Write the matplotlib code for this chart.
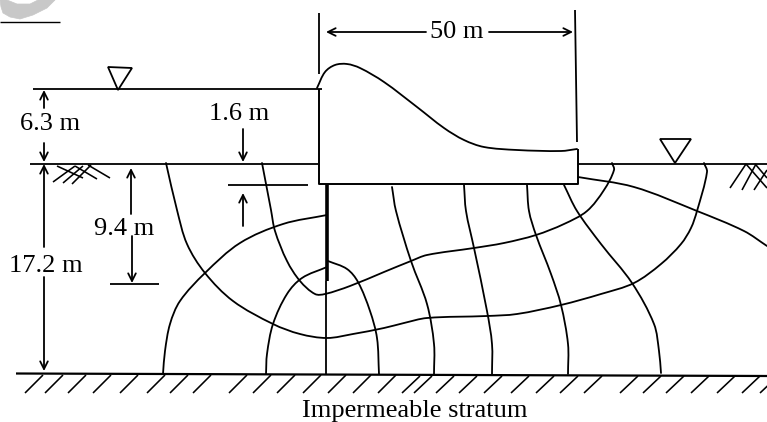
import math
import matplotlib
matplotlib.use('Agg')
import matplotlib.pyplot as plt
from matplotlib.path import Path
from matplotlib.patches import PathPatch, Polygon

plt.rcParams['font.family'] = ['Liberation Serif', 'DejaVu Serif']

W, H = 767, 422
INK = '#000000'
LW = 1.3

dam_top = [(317, 88), (325, 72), (335, 65), (347, 64), (360, 68), (384, 82), (417, 107),
           (444, 128), (464, 140), (484, 147), (517, 150), (561, 151), (577, 149)]
flow_a = [(166, 163), (177, 210), (187, 244), (205, 273), (233, 301), (273, 324), (300, 334),
          (327, 338), (353, 334), (384, 328), (404, 323), (427, 318), (487, 316), (517, 314),
          (561, 305), (601, 294), (634, 283), (661, 264), (681, 244), (691, 228), (697, 211),
          (707, 172), (704, 163)]
flow_b = [(262, 163), (271, 210), (275, 231), (287, 261), (300, 281), (315, 294), (325, 294),
          (350, 286), (384, 272), (411, 261), (427, 255), (474, 248), (504, 243), (536, 235),
          (564, 224), (587, 211), (604, 190), (614, 170), (612, 163)]
flow_c = [(578, 177), (634, 187), (697, 211), (744, 231), (767, 246)]
flow_d = [(327, 215), (283, 224), (240, 243), (205, 273), (180, 301), (170, 324), (165, 351), (163, 374)]
flow_e = [(327, 267), (302, 278), (287, 294), (273, 324), (267, 354), (266, 374)]
flow_f = [(328, 261), (347, 269), (358, 282), (370, 311), (377, 338), (379, 374)]
flow_g = [(392, 187), (396, 211), (411, 261), (427, 304), (434, 344), (434, 374)]
flow_h = [(464, 185), (466, 211), (474, 248), (487, 311), (492, 344), (492, 374)]
flow_i = [(527, 185), (529, 211), (536, 235), (551, 274), (561, 305), (568, 344), (568, 374)]
flow_j = [(564, 185), (577, 211), (601, 244), (632, 283), (654, 324), (659, 351), (661, 373)]
flow_lines = [flow_a, flow_b, flow_c, flow_d, flow_e, flow_f, flow_g, flow_h, flow_i, flow_j]

hatch_left = [25, 45, 68, 93, 120, 147, 170, 193, 229, 253, 277, 303, 328, 353, 378]
hatch_right = [402, 414, 436, 459, 484, 511, 536, 560, 584, 620, 643, 666, 691, 717, 742, 760]

soil_marks = [((53, 182), (75, 166)), ((63, 183), (83, 166)), ((72, 184), (91, 165)),
              ((57, 166), (83, 178)), ((75, 166), (97, 179)), ((88, 165), (110, 178)),
              ((730, 188), (746, 164)), ((742, 190), (756, 164)), ((754, 190), (767, 170)),
              ((746, 164), (767, 188)), ((756, 165), (767, 178))]

labels = ['50 m', '6.3 m', '1.6 m', '9.4 m', '17.2 m', 'Impermeable stratum']
label_x = [457, 50, 239, 124, 46, 415]
label_y = [32, 124.5, 114, 229, 266, 411]


def smooth(pts):
    # bezier through the points, handles a third of each segment long
    tangents = []
    for i in range(len(pts)):
        a = pts[max(i - 1, 0)]
        b = pts[min(i + 1, len(pts) - 1)]
        d = math.hypot(b[0] - a[0], b[1] - a[1])
        tangents.append(((b[0] - a[0]) / d, (b[1] - a[1]) / d))
    verts = [pts[0]]
    codes = [Path.MOVETO]
    for i in range(len(pts) - 1):
        p1, p2 = pts[i], pts[i + 1]
        h = math.hypot(p2[0] - p1[0], p2[1] - p1[1]) / 3
        c1 = (p1[0] + tangents[i][0] * h, p1[1] + tangents[i][1] * h)
        c2 = (p2[0] - tangents[i + 1][0] * h, p2[1] - tangents[i + 1][1] * h)
        verts += [c1, c2, p2]
        codes += [Path.CURVE4] * 3
    return Path(verts, codes)


def curve(ax, pts, lw=LW):
    ax.add_patch(PathPatch(smooth(pts), fill=False, ec=INK, lw=lw, capstyle='round'))


def line(ax, x, y, lw=LW):
    ax.plot(x, y, color=INK, lw=lw, solid_capstyle='butt')


def arrow(ax, start, end):
    ax.annotate('', xy=end, xytext=start,
                arrowprops=dict(arrowstyle='->,head_length=0.5,head_width=0.25', color=INK, lw=LW,
                                shrinkA=0, shrinkB=0, mutation_scale=11))


def hatch(ax, xs, y0, y1):
    for x in xs:
        line(ax, [x, x + 18], [y1, y0], lw=1.15)


fig = plt.figure(figsize=(W / 100, H / 100), dpi=100)
ax = fig.add_axes([0, 0, 1, 1])
ax.set_xlim(0, W)
ax.set_ylim(H, 0)
ax.axis('off')

# watermark remains in the corner
logo = [(0, 0), (1, 7), (3, 13), (10, 17), (20, 19), (33, 15), (47, 8), (55, 0),
        (38, 0), (30, 4), (17, 4), (7, 0)]
ax.add_patch(Polygon(logo, fc='#c8c8c8', ec='#c8c8c8', lw=0.5, joinstyle='round'))
line(ax, [0, 60], [21.5, 21.5], lw=1.0)

# dam
curve(ax, dam_top)
line(ax, [318.5, 318.5, 577.5, 577.5], [89, 184, 184, 149], lw=1.4)
line(ax, [318.5, 318.5], [13, 74])
line(ax, [575, 577], [10, 142])
line(ax, [326.5, 326.5], [184, 281], lw=2.6)
line(ax, [326, 326], [281, 375])

# water and ground
line(ax, [33, 322], [89, 89])
line(ax, [30, 318], [163.5, 163.5])
line(ax, [578, 767], [163.5, 163.5])
ax.add_patch(Polygon([(108, 67), (132, 68), (118, 90)], fill=False, ec=INK, lw=LW))
ax.add_patch(Polygon([(660, 139), (691, 139), (675, 163)], fill=False, ec=INK, lw=LW))

for a, b in soil_marks:
    line(ax, [a[0], b[0]], [a[1], b[1]], lw=1.15)

# seepage net
for pts in flow_lines:
    curve(ax, pts)

# bottom stratum
line(ax, [16, 767], [373.5, 376], lw=1.6)
hatch(ax, hatch_left, 375, 393)
hatch(ax, hatch_right, 376, 393)

# dimensions
arrow(ax, (426, 32), (326, 32))
arrow(ax, (489, 32), (573, 32))
arrow(ax, (44, 108), (44, 90))
arrow(ax, (44, 143), (44, 162))
arrow(ax, (44, 247), (44, 164))
arrow(ax, (44, 277), (44, 371))
arrow(ax, (243, 129), (243, 162))
line(ax, [228, 308], [185, 185])
arrow(ax, (243, 226), (243, 193))
arrow(ax, (131, 214), (131, 168))
arrow(ax, (132, 236), (132, 283))
line(ax, [110, 159], [284, 284])

for t, x, y in zip(labels, label_x, label_y):
    ax.text(x, y, t, ha='center', va='center', fontsize=19, color=INK)

fig.savefig('out.png', dpi=100)
